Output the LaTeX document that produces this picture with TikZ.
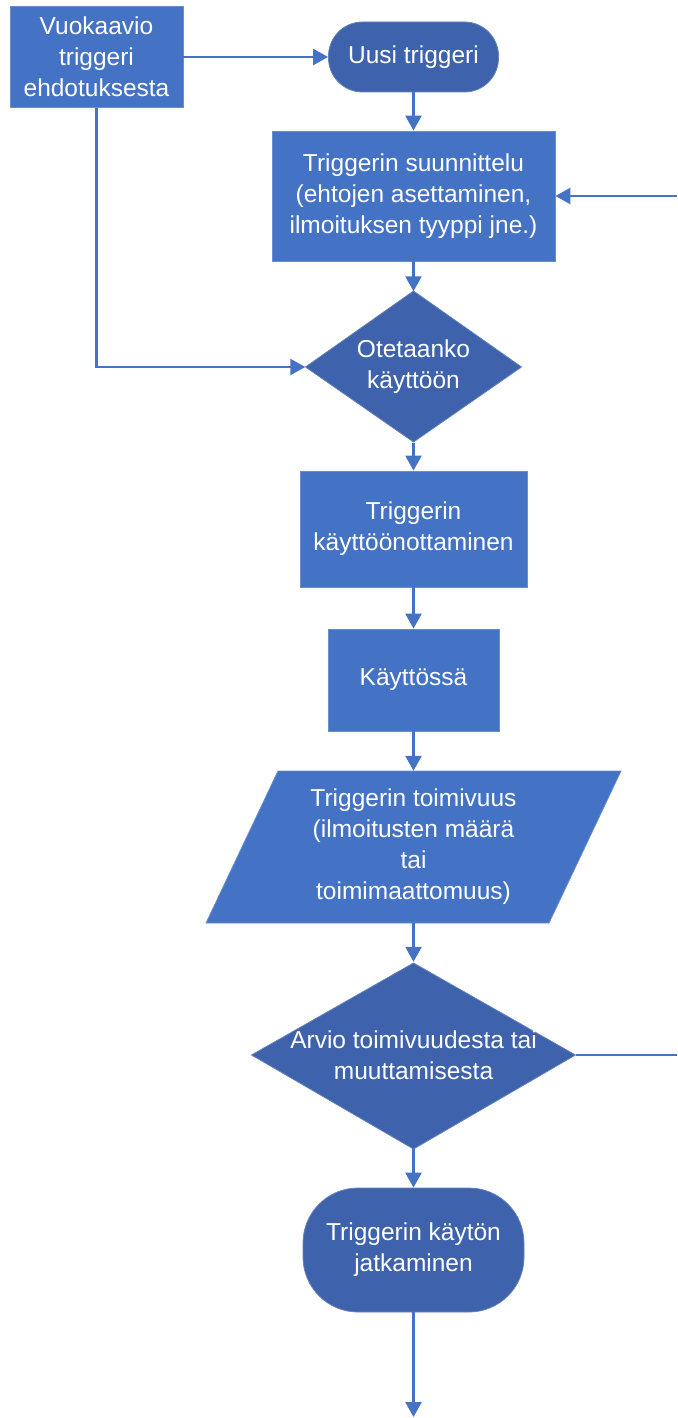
\documentclass[tikz,border=0pt]{standalone}
\usepackage{fontspec}
\setmainfont{Liberation Sans}
\usetikzlibrary{arrows.meta,shapes.geometric,calc}
\definecolor{boxblue}{HTML}{4472C4}
\definecolor{darkblue}{HTML}{3E63AC}
\definecolor{lineblue}{HTML}{4472C4}
\tikzset{
  lbl/.style={text=white,font=\fontsize{24.5}{31}\selectfont,align=center,inner sep=0pt},
  procbox/.style={lbl,rectangle,fill=boxblue,draw=boxblue!80!white,line width=0.8pt},
  termbox/.style={lbl,rectangle,rounded corners=34pt,fill=darkblue,draw=darkblue!80!white,line width=0.8pt},
  conn/.style={draw=lineblue,line width=2.4pt},
  arr/.style={conn,-{Triangle[length=15pt,width=16pt]}}
}
\begin{document}
\begin{tikzpicture}[x=1pt,y=-1pt]
\useasboundingbox (0,0) rectangle (677,1418);
% nodes
\node[procbox,minimum width=173pt,minimum height=101pt] (vuo) at (96.5,57) {Vuokaavio\\triggeri\\ehdotuksesta};
\node[termbox,minimum width=170pt,minimum height=70pt] (uusi) at (413.5,57) {Uusi triggeri};
\node[procbox,minimum width=283pt,minimum height=130pt] (suun) at (413.5,196) {Triggerin suunnittelu\\(ehtojen asettaminen,\\ilmoituksen tyyppi jne.)};
\path[fill=darkblue,draw=darkblue!80!white,line width=0.8pt] (413.5,291) -- (521.5,367) -- (413.5,442) -- (305.5,367) -- cycle;
\node[lbl,minimum width=216pt,minimum height=151pt] (ote) at (413.5,367) {Otetaanko\\käyttöön};
\node[procbox,minimum width=227pt,minimum height=116pt] (kayt) at (413.5,529) {Triggerin\\käyttöönottaminen};
\node[procbox,minimum width=171pt,minimum height=102pt] (kaytossa) at (413.5,680) {Käyttössä};
\path[fill=boxblue,draw=boxblue!80!white,line width=0.8pt] (206,923) -- (549,923) -- (621,771) -- (278,771) -- cycle;
\node[lbl,minimum width=340pt,minimum height=152pt] (toim) at (413.5,847) {Triggerin toimivuus\\(ilmoitusten määrä\\tai\\toimimaattomuus)};
\path[fill=darkblue,draw=darkblue!80!white,line width=0.8pt] (413.5,963) -- (575.5,1055) -- (413.5,1149) -- (251.5,1055) -- cycle;
\node[lbl,minimum width=324pt,minimum height=186pt] (arvio) at (413.5,1055) {Arvio toimivuudesta tai\\muuttamisesta};
\node[termbox,rounded corners=55pt,minimum width=221pt,minimum height=124pt] (jatk) at (413.5,1250) {Triggerin käytön\\jatkaminen};
% coordinates
\coordinate (corner) at (96.5,367);
\coordinate (rtop) at (677,196);
\coordinate (rbot) at (677,1055);
\coordinate (endpt) at (413.5,1417);
% connectors
\draw[arr] (vuo.east) -- (uusi.west);
\draw[arr] (uusi.south) -- (suun.north);
\draw[arr] (suun.south) -- (ote.north);
\draw[arr] (vuo.south) -- (corner) -- (ote.west);
\draw[arr] (ote.south) -- (kayt.north);
\draw[arr] (kayt.south) -- (kaytossa.north);
\draw[arr] (kaytossa.south) -- (toim.north);
\draw[arr] (toim.south) -- (arvio.north);
\draw[arr] (arvio.south) -- (jatk.north);
\draw[arr] (jatk.south) -- (endpt);
\draw[conn] (arvio.east) -- (rbot);
\draw[arr] (rtop) -- (suun.east);
\end{tikzpicture}
\end{document}
